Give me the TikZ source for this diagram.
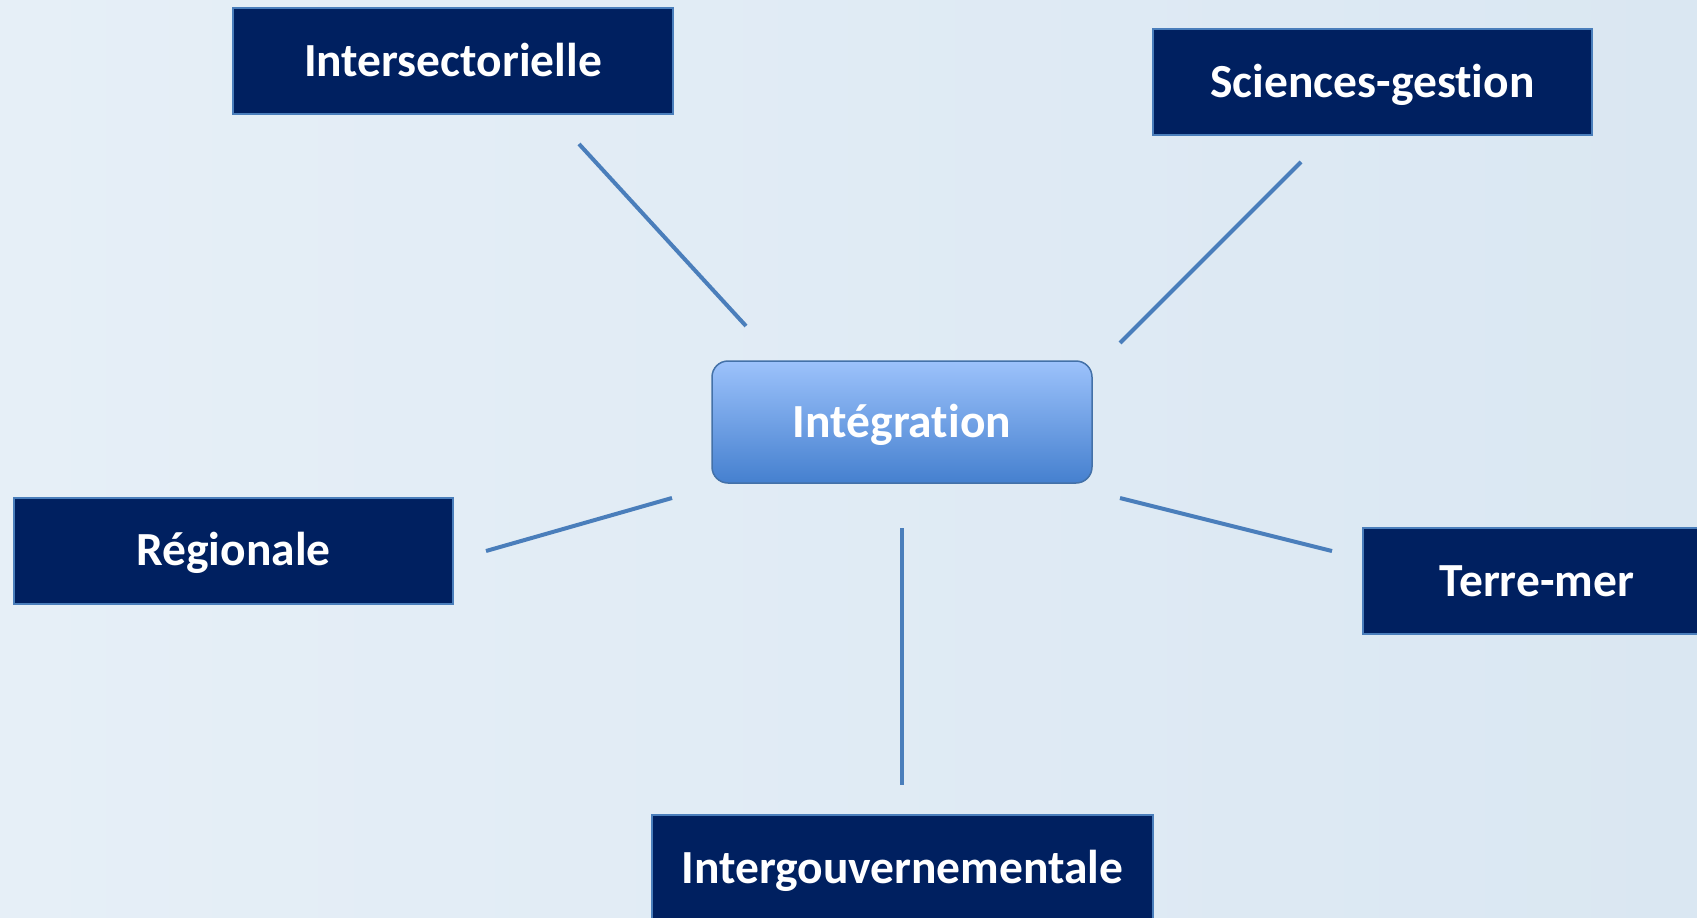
\documentclass[tikz,border=0pt]{standalone}
\usepackage{fontspec}
\setmainfont{Carlito}[Ligatures=NoCommon]
\usetikzlibrary{shadings}
\definecolor{navy}{HTML}{002060}
\definecolor{edge}{HTML}{4A7EBB}
\definecolor{bgA}{HTML}{E6EFF7}
\definecolor{bgB}{HTML}{DAE7F2}
\definecolor{topC}{HTML}{9CC2FB}
\definecolor{botC}{HTML}{4580CF}
\tikzset{
  leaf/.style={draw=edge, line width=2pt, fill=navy, text=white, inner sep=0pt,
    font=\fontsize{47.5}{56}\selectfont\bfseries, minimum height=106pt,
    text height=30.6pt, text depth=0pt},
  hub/.style={draw=edge!90!black, line width=1.5pt, rounded corners=16pt, top color=topC,
    bottom color=botC, text=white, inner sep=0pt, minimum width=380pt, minimum height=122pt,
    font=\fontsize{47.5}{56}\selectfont\bfseries, text height=30.6pt, text depth=0pt},
  link/.style={draw=edge, line width=4pt}
}
\begin{document}
\begin{tikzpicture}[x=1pt,y=-1pt]
\useasboundingbox (0,0) rectangle (1697,918);
\clip (0,0) rectangle (1697,918);
\shade[left color=bgA, right color=bgB] (0,0) rectangle (1697,918);
\node[hub] (int) at (902,422) {Intégration};
\node[leaf, minimum width=440pt] (ins) at (453,61) {Intersectorielle};
\node[leaf, minimum width=439pt] (sci) at (1372.5,82) {Sciences-gestion};
\node[leaf, minimum width=439pt] (reg) at (233.5,550.5) {Régionale};
\node[leaf, minimum width=348pt] (ter) at (1537,581) {Terre-mer};
\node[leaf, minimum width=501pt] (igv) at (902.5,868) {Intergouvernementale};
\coordinate (a1) at (579,144); \coordinate (a2) at (746,326);
\coordinate (b1) at (1301,162); \coordinate (b2) at (1120,343);
\coordinate (c1) at (486,551); \coordinate (c2) at (672,498);
\coordinate (d1) at (1120,498); \coordinate (d2) at (1332,551);
\coordinate (e1) at (902,528); \coordinate (e2) at (902,785);
\draw[link] (a1) -- (a2);
\draw[link] (b1) -- (b2);
\draw[link] (c1) -- (c2);
\draw[link] (d1) -- (d2);
\draw[link] (e1) -- (e2);
\end{tikzpicture}
\end{document}
